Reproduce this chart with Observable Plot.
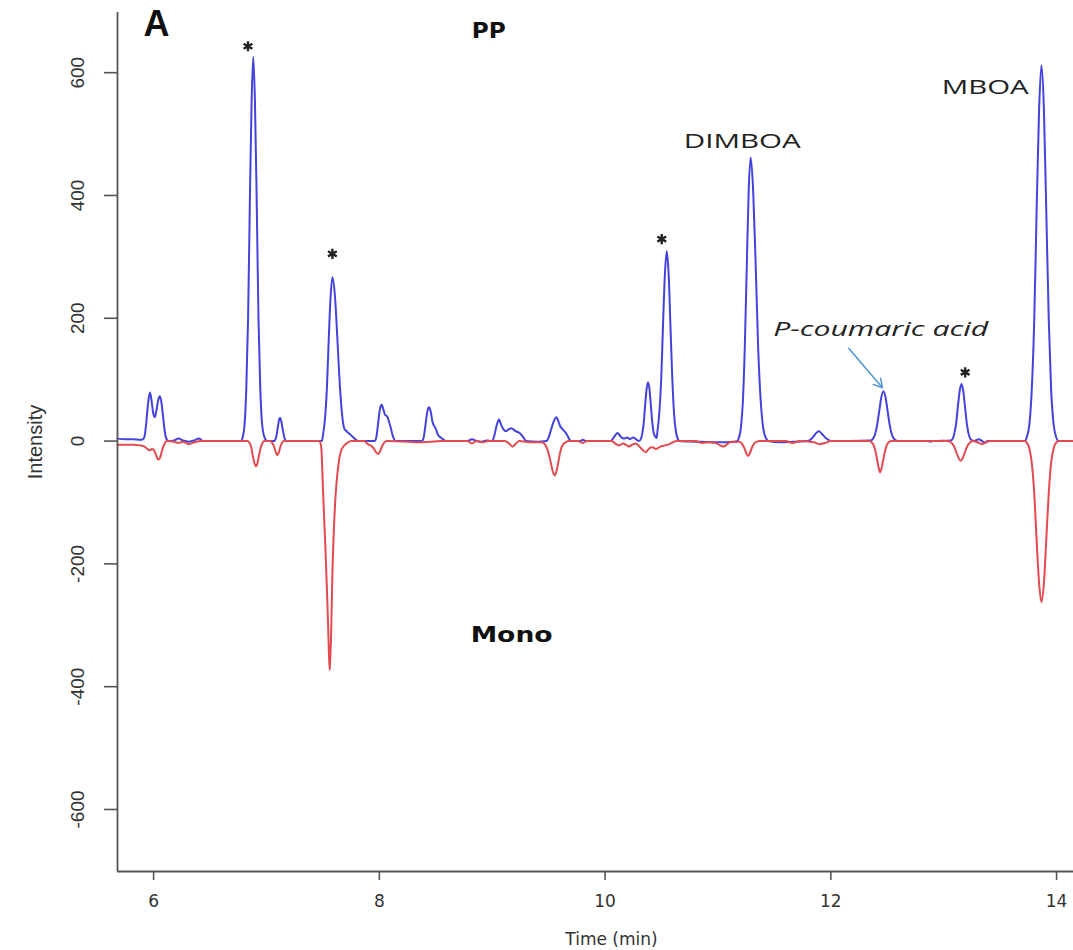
<!DOCTYPE html>
<html>
<head>
<meta charset="utf-8">
<script src="https://cdn.jsdelivr.net/npm/d3@7"></script>
<script src="https://cdn.jsdelivr.net/npm/@observablehq/plot@0.6"></script>
<style>
html, body { margin: 0; padding: 0; background: #fff; }
#chart svg { display: block; }
</style>
</head>
<body>
<div id="chart"></div>
<script>
// ---- axes ----
const xDomain = [5.68, 14.15];
const yDomain = [-701, 698];
const xTicks = [6, 8, 10, 12, 14];
const yTicks = [-600, -400, -200, 0, 200, 400, 600];

// ---- PP chromatogram (blue) : [time (min), intensity] ----
const ppTrace = [
  [5.68,4],[5.75,3],[5.82,3],[5.88,2],[5.905,3],[5.92,8],[5.935,30],[5.95,60],[5.967,79],[5.98,68],
  [5.995,47],[6.01,39],[6.025,50],[6.04,66],[6.056,73],[6.07,62],[6.085,38],[6.10,14],[6.115,3],[6.13,0],
  [6.18,1],[6.22,4],[6.26,1],[6.31,-1],[6.36,1],[6.40,4],[6.44,0],[6.60,0],
  [6.775,0],[6.79,7],[6.806,27],[6.821,85],[6.837,200],[6.852,382],[6.868,551],[6.883,626],[6.898,551],
  [6.914,382],[6.929,200],[6.945,85],[6.96,30],[6.976,10],[6.99,3],[7.005,0],
  [7.066,0],[7.085,6],[7.10,22],[7.112,35],[7.12,38],[7.13,33],[7.145,18],[7.16,5],[7.172,0],
  [7.49,0],[7.502,12],[7.518,36],[7.535,85],[7.551,163],[7.568,235],[7.584,267],[7.607,235],[7.629,163],
  [7.652,85],[7.674,36],[7.69,20],[7.71,16],[7.74,11],[7.77,6],[7.80,1],[7.82,0],
  [7.96,0],[7.975,8],[7.99,30],[8.005,52],[8.02,59],[8.035,52],[8.05,43],[8.07,40],[8.085,32],[8.10,22],
  [8.12,8],[8.145,0],
  [8.38,0],[8.395,8],[8.41,28],[8.425,48],[8.44,55],[8.455,48],[8.47,32],[8.50,20],[8.52,10],[8.543,6],
  [8.565,3],[8.59,0],
  [8.78,0],[8.82,3],[8.86,0],[8.90,-1],[8.95,1],
  [9.00,0],[9.02,10],[9.04,26],[9.06,35],[9.08,26],[9.10,19],[9.12,16],[9.145,19],[9.17,21],[9.20,17],
  [9.25,12],[9.28,5],[9.30,0],[9.40,-1],
  [9.48,0],[9.50,6],[9.52,18],[9.545,32],[9.568,39],[9.585,33],[9.60,25],[9.615,21],[9.64,16],[9.66,11],
  [9.68,4],[9.695,0],[9.78,0],[9.80,2],[9.83,0],
  [10.05,0],[10.08,7],[10.11,13],[10.14,7],[10.165,4],[10.195,6],[10.22,3],[10.25,6],[10.28,2],[10.30,0],
  [10.318,4],[10.33,13],[10.343,31],[10.355,59],[10.368,85],[10.38,96],[10.393,85],[10.405,59],[10.418,31],
  [10.43,14],[10.445,7],[10.457,5],[10.464,16],[10.48,45],[10.497,100],[10.513,188],[10.53,272],[10.546,309],
  [10.563,272],[10.579,188],[10.596,99],[10.612,42],[10.629,14],[10.645,3],[10.66,0],
  [10.80,-1],[11.00,-2],[11.15,-1],
  [11.17,0],[11.185,5],[11.202,20],[11.22,62],[11.237,148],[11.255,282],[11.272,407],[11.29,462],[11.312,407],
  [11.335,282],[11.357,148],[11.38,62],[11.402,20],[11.425,5],[11.445,0],
  [11.55,-2],[11.70,-1],
  [11.80,0],[11.84,6],[11.875,14],[11.895,16],[11.92,12],[11.95,6],[11.98,2],[12.00,0],
  [12.355,1],[12.374,4],[12.392,11],[12.41,26],[12.429,49],[12.447,71],[12.466,81],[12.485,71],[12.503,49],
  [12.522,26],[12.54,11],[12.559,4],[12.577,1],[12.60,0],
  [12.85,0],[12.88,-1],[12.91,0],
  [13.064,1],[13.08,4],[13.095,13],[13.111,30],[13.126,57],[13.142,82],[13.157,93],[13.173,82],[13.188,57],
  [13.204,30],[13.219,13],[13.235,4],[13.25,1],[13.27,0],[13.31,3],[13.34,0],[13.365,-3],[13.39,0],
  [13.72,0],[13.737,7],[13.759,27],[13.78,83],[13.802,196],[13.823,373],[13.845,539],[13.866,612],[13.888,539],
  [13.909,373],[13.931,196],[13.952,83],[13.974,27],[13.995,7],[14.02,0],[14.15,0]
];

// ---- Mono chromatogram (red) : [time (min), intensity] ----
const monoTrace = [
  [5.68,-6],[5.75,-6],[5.82,-6],[5.88,-7],[5.92,-9],[5.945,-13],[5.967,-15],[5.985,-13],[6.00,-14],[6.02,-22],
  [6.04,-30],[6.055,-28],[6.075,-15],[6.095,-5],[6.115,0],[6.18,-1],[6.22,-3],[6.26,-1],[6.31,-5],[6.36,-2],
  [6.42,0],
  [6.83,0],[6.85,-3],[6.865,-10],[6.88,-25],[6.895,-37],[6.907,-41],[6.92,-36],[6.935,-22],[6.95,-10],
  [6.965,-3],[6.98,0],
  [7.035,0],[7.05,-3],[7.065,-8],[7.08,-17],[7.096,-23],[7.11,-18],[7.125,-8],[7.14,-2],[7.155,0],
  [7.47,0],[7.485,-10],[7.50,-75],[7.512,-130],[7.524,-184],[7.535,-240],[7.545,-293],[7.553,-345],[7.56,-373],
  [7.566,-350],[7.572,-320],[7.584,-215],[7.598,-140],[7.61,-95],[7.622,-65],[7.64,-35],[7.657,-18],
  [7.685,-8],[7.716,-3],[7.75,0],
  [7.87,0],[7.89,-4],[7.908,-6],[7.93,-8],[7.95,-12],[7.975,-19],[7.99,-21],[8.005,-17],[8.025,-8],
  [8.045,-2],[8.065,0],
  [8.25,-1],[8.35,-2],[8.45,-1],[8.55,0],[8.78,0],[8.82,-4],[8.86,0],[8.92,-2],[8.96,0],
  [9.11,0],[9.15,-4],[9.18,-9],[9.21,-4],[9.24,0],[9.35,-2],
  [9.44,-2],[9.46,-4],[9.475,-8],[9.49,-14],[9.505,-24],[9.52,-36],[9.537,-50],[9.553,-56],[9.568,-50],
  [9.584,-36],[9.60,-20],[9.615,-10],[9.63,-5],[9.65,-2],[9.68,0],
  [9.76,0],[9.80,-3],[9.84,0],
  [10.06,0],[10.09,-4],[10.124,-7],[10.16,-4],[10.185,-6],[10.21,-9],[10.24,-6],[10.27,-4],[10.30,-8],
  [10.33,-14],[10.36,-18],[10.39,-12],[10.42,-10],[10.45,-13],[10.49,-9],[10.53,-7],[10.57,-5],[10.61,-1],
  [10.63,0],
  [10.80,0],[10.86,-3],[10.92,-2],[10.98,-3],[11.02,-7],[11.05,-9],[11.08,-5],[11.12,-1],
  [11.19,-1],[11.215,-5],[11.235,-12],[11.252,-20],[11.267,-24],[11.285,-19],[11.30,-11],[11.32,-4],
  [11.345,-1],[11.37,0],
  [11.60,0],[11.66,-3],[11.72,0],[11.85,-2],[11.90,-5],[11.95,-3],[12.00,0],
  [12.34,0],[12.36,-2],[12.38,-7],[12.40,-20],[12.418,-38],[12.436,-51],[12.452,-42],[12.468,-27],
  [12.485,-13],[12.50,-5],[12.52,-1],[12.54,0],
  [13.04,0],[13.07,-3],[13.09,-8],[13.11,-17],[13.13,-27],[13.151,-32],[13.17,-27],[13.19,-17],[13.21,-8],
  [13.23,-3],[13.255,0],[13.30,-2],[13.34,-5],[13.38,-1],[13.42,0],
  [13.72,0],[13.737,-3],[13.759,-12],[13.78,-35],[13.802,-84],[13.823,-160],[13.845,-231],[13.866,-262],
  [13.888,-231],[13.909,-160],[13.931,-84],[13.952,-35],[13.974,-12],[13.995,-3],[14.02,0],[14.15,0]
];

// ---- annotations ----
const starTime = [6.836, 7.584, 10.502, 13.19];
const starIntensity = [643, 305, 329, 112];
const compoundNames = ["DIMBOA", "MBOA"];
const compoundTime = [11.215, 13.368];
const compoundIntensity = [487, 576];
const acidName = ["P-coumaric acid"];
const acidTime = [12.442];
const acidIntensity = [182];
const arrowStart = [12.159, 151];
const arrowEnd = [12.457, 87];
const sampleNames = ["PP", "Mono"];
const sampleTime = [8.969, 9.172];
const sampleIntensity = [668, -316];
const panelLetter = ["A"];
const xLabel = ["Time (min)"];
const yLabel = ["Intensity"];

// ---- build tables ----
const pp = ppTrace.map(([t, v]) => ({t, v}));
const mono = monoTrace.map(([t, v]) => ({t, v}));
const stars = starTime.map((t, i) => ({t, v: starIntensity[i]}));
const compounds = compoundNames.map((name, i) => ({name, t: compoundTime[i], v: compoundIntensity[i]}));
const acid = acidName.map((name, i) => ({name, t: acidTime[i], v: acidIntensity[i]}));
const samples = sampleNames.map((name, i) => ({name, t: sampleTime[i], v: sampleIntensity[i]}));
const arrows = [{x1: arrowStart[0], y1: arrowStart[1], x2: arrowEnd[0], y2: arrowEnd[1]}];

const axisGray = "#555";
const narrow = "'Liberation Sans Narrow', 'Liberation Sans', Arial, sans-serif";

const chart = Plot.plot({
  width: 1073,
  height: 950,
  marginLeft: 117,
  marginRight: 0,
  marginTop: 12,
  marginBottom: 79,
  style: {background: "#fff", color: "#333", fontFamily: "'DejaVu Sans', sans-serif"},
  x: {domain: xDomain},
  y: {domain: yDomain},
  marks: [
    Plot.line(pp, {x: "t", y: "v", stroke: "#4343dc", strokeWidth: 2, curve: "monotone-x"}),
    Plot.line(mono, {x: "t", y: "v", stroke: "#e34b50", strokeWidth: 2, curve: "monotone-x"}),
    Plot.ruleX([xDomain[0]], {stroke: axisGray, strokeWidth: 1.8}),
    Plot.ruleY([yDomain[0]], {stroke: axisGray, strokeWidth: 1.8}),
    Plot.axisX({ticks: xTicks, tickSize: 9, tickPadding: 14, tickFormat: d => String(d), label: null,
      fontSize: 17, fontFamily: "'DejaVu Sans', sans-serif", stroke: axisGray, strokeWidth: 1.6, fill: "#333"}),
    Plot.axisY({ticks: yTicks, tickSize: 13, tickRotate: -90, tickPadding: 21, tickFormat: d => String(d), label: null,
      fontSize: 19, fontFamily: narrow, stroke: axisGray, strokeWidth: 1.6, fill: "#333"}),
    Plot.text(yLabel, {frameAnchor: "left", dx: -82, rotate: -90, textAnchor: "middle", lineAnchor: "middle",
      fontSize: 20, fontFamily: narrow, fill: "#333"}),
    Plot.text(xLabel, {frameAnchor: "bottom", dx: 16, dy: 68, textAnchor: "middle", lineAnchor: "middle",
      fontSize: 17, fontFamily: "'DejaVu Sans', sans-serif", fill: "#333"}),
    Plot.text(panelLetter, {frameAnchor: "top-left", dx: 39, dy: 12, textAnchor: "middle", lineAnchor: "middle",
      fontSize: 36, fontWeight: "bold", fontFamily: "'Liberation Sans', Arial, sans-serif", fill: "#111"}),
    Plot.dot(stars, {x: "t", y: "v", symbol: "asterisk", r: 4.8, stroke: "#222", strokeWidth: 2.4}),
    Plot.text(samples, {x: "t", y: "v", text: "name", fontSize: 21, fontWeight: "bold",
      fontFamily: "'DejaVu Sans', sans-serif", fill: "#111"}),
    Plot.text(compounds, {x: "t", y: "v", text: "name", fontSize: 20,
      fontFamily: "'Open Sans', 'DejaVu Sans', sans-serif", fill: "#222"}),
    Plot.text(acid, {x: "t", y: "v", text: "name", fontSize: 20, fontStyle: "italic",
      fontFamily: "'Open Sans', 'DejaVu Sans', sans-serif", fill: "#222"}),
    Plot.arrow(arrows, {x1: "x1", y1: "y1", x2: "x2", y2: "y2", stroke: "#5b9bd5", strokeWidth: 1.6, headLength: 9})
  ]
});

// stretched lettering of the original figure
const stretch = {"DIMBOA": 117, "MBOA": 87, "P-coumaric acid": 215, "PP": 34, "Mono": 82};
chart.querySelectorAll("text").forEach(el => {
  const w = stretch[el.textContent];
  if (w) {
    el.setAttribute("textLength", w);
    el.setAttribute("lengthAdjust", "spacingAndGlyphs");
  }
});

document.getElementById("chart").append(chart);
</script>
</body>
</html>
